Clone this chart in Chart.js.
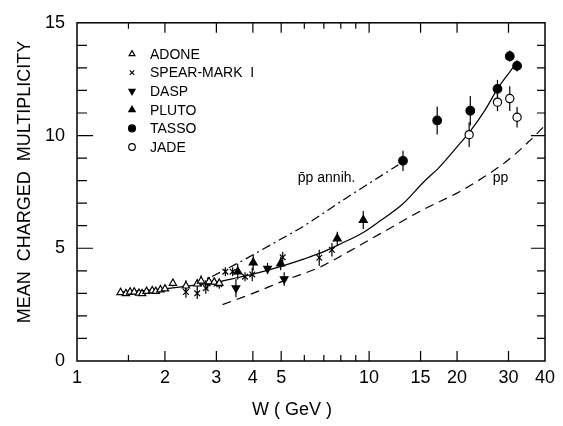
<!DOCTYPE html>
<html>
<head>
<meta charset="utf-8">
<script src="https://cdn.jsdelivr.net/npm/chart.js@4.4.0/dist/chart.umd.min.js"></script>
<style>
  html, body { margin: 0; padding: 0; background: #fff; }
  #wrap { width: 563px; height: 426px; }
</style>
</head>
<body>
<div id="wrap"><canvas id="myChart"></canvas></div>
<script>
// measured points, W in GeV, n = mean charged multiplicity, err = half error bar
const adoneW = [1.41, 1.47, 1.52, 1.57, 1.63, 1.67, 1.73, 1.81, 1.86, 1.93, 2.0, 2.13, 2.36, 2.58, 2.66, 2.83, 2.95, 3.07];
const adoneN = [3.04, 2.99, 3.06, 3.06, 3.01, 2.99, 3.09, 3.12, 3.09, 3.16, 3.2, 3.45, 3.33, 3.42, 3.55, 3.52, 3.5, 3.45];
const adoneErr = [0.1, 0.1, 0.1, 0.1, 0.1, 0.1, 0.1, 0.1, 0.1, 0.1, 0.1, 0.15, 0.25, 0.2, 0.25, 0.2, 0.2, 0.2];

const spearW = [2.36, 2.58, 2.76, 2.8, 3.07, 3.22, 3.41, 3.76, 3.98, 5.06, 6.75, 7.46];
const spearN = [3.06, 3.0, 3.23, 3.45, 3.4, 3.96, 3.96, 3.74, 3.84, 4.6, 4.58, 4.93];
const spearErr = [0.25, 0.25, 0.25, 0.25, 0.2, 0.2, 0.2, 0.2, 0.3, 0.25, 0.35, 0.3];

const daspW = [3.5, 4.49, 5.12];
const daspN = [3.23, 4.1, 3.64];
const daspErr = [0.4, 0.25, 0.3];

const plutoW = [3.55, 4.01, 4.98, 7.78, 9.55];
const plutoN = [3.96, 4.36, 4.32, 5.43, 6.25];
const plutoErr = [0.35, 0.35, 0.3, 0.3, 0.4];

const tassoW = [13.06, 17.1, 22.2, 27.5, 30.3, 32.1];
const tassoN = [8.88, 10.67, 11.1, 12.07, 13.52, 13.09];
const tassoErr = [0.45, 0.62, 0.65, 0.4, 0.25, 0.25];

const jadeW = [22.0, 27.5, 30.3, 32.1];
const jadeN = [10.04, 11.48, 11.64, 10.81];
const jadeErr = [0.55, 0.4, 0.55, 0.45];

// curves
const fitW = [1.4, 2, 2.5, 3, 3.5, 4, 5, 6, 7, 8, 9.55, 11, 13, 15.4, 17.4, 20, 22.2, 25, 27.5, 30, 32];
const fitN = [3.05, 3.2, 3.35, 3.5, 3.68, 3.85, 4.2, 4.53, 4.85, 5.2, 5.7, 6.25, 6.95, 7.95, 8.6, 9.5, 10.2, 11.15, 12.07, 12.75, 13.23];

const annihW = [2.9, 3.6, 4.7, 6.0, 7.8, 10.2, 12.6];
const annihN = [3.75, 4.38, 5.22, 6.0, 6.98, 7.95, 8.7];

const ppW = [3.15, 4, 5.2, 6.8, 8.24, 11.35, 15.3, 20.4, 25, 29.7, 35, 40];
const ppN = [2.5, 3.0, 3.6, 4.17, 4.75, 5.77, 6.71, 7.51, 8.2, 8.88, 9.7, 10.45];

// axes
const xTickVals = [1, 2, 3, 4, 5, 10, 15, 20, 30, 40];
const xMinorVals = [1.5, 6, 7, 8, 9];
const yTickVals = [0, 5, 10, 15];

const pts = (w, n) => w.map((v, i) => ({ x: v, y: n[i] }));

const numFont = "'Liberation Sans Narrow', 'Liberation Sans', sans-serif";
const txtFont = "'Liberation Sans', Arial, sans-serif";

function marker(label, w, n, err, style, fill, radius, rot) {
    return {
        label: label,
        data: pts(w, n),
        errors: err,
        pointStyle: style,
        pointRotation: rot || 0,
        pointRadius: radius,
        pointBackgroundColor: fill,
        pointBorderColor: '#000',
        pointBorderWidth: 1.2,
        showLine: false
    };
}

function curve(w, n, dash) {
    return {
        label: '',
        data: pts(w, n),
        showLine: true,
        borderColor: '#000',
        borderWidth: 1.2,
        borderDash: dash,
        pointRadius: 0,
        cubicInterpolationMode: 'monotone'
    };
}

const markers = [
    marker('ADONE', adoneW, adoneN, adoneErr, 'triangle', '#fff', 4.2),
    marker('SPEAR-MARK  I', spearW, spearN, spearErr, 'crossRot', '#000', 4),
    marker('DASP', daspW, daspN, daspErr, 'triangle', '#000', 4.4, 180),
    marker('PLUTO', plutoW, plutoN, plutoErr, 'triangle', '#000', 4.6),
    marker('TASSO', tassoW, tassoN, tassoErr, 'circle', '#000', 4.3),
    marker('JADE', jadeW, jadeN, jadeErr, 'circle', '#fff', 4.1)
];

// inward ticks, frame, error bars, legend and labels
const decor = {
    id: 'decor',
    beforeDatasetsDraw(chart) {
        const { ctx } = chart;
        const xs = chart.scales.x, ys = chart.scales.y;
        ctx.save();
        ctx.strokeStyle = '#000';
        ctx.lineWidth = 1.2;
        chart.data.datasets.forEach(ds => {
            if (!ds.errors) return;
            ds.data.forEach((p, i) => {
                const px = xs.getPixelForValue(p.x);
                ctx.beginPath();
                ctx.moveTo(px, ys.getPixelForValue(p.y - ds.errors[i]));
                ctx.lineTo(px, ys.getPixelForValue(p.y + ds.errors[i]));
                ctx.stroke();
            });
        });
        ctx.restore();
    },
    afterDraw(chart) {
        const { ctx, chartArea: a } = chart;
        const xs = chart.scales.x, ys = chart.scales.y;
        ctx.save();
        ctx.strokeStyle = '#000';
        ctx.lineWidth = 1.5;
        ctx.strokeRect(a.left, a.top, a.right - a.left, a.bottom - a.top);

        ctx.lineWidth = 1.2;
        ctx.beginPath();
        const xt = (v, len) => {
            const px = xs.getPixelForValue(v);
            ctx.moveTo(px, a.bottom); ctx.lineTo(px, a.bottom - len);
            ctx.moveTo(px, a.top); ctx.lineTo(px, a.top + len);
        };
        xTickVals.slice(1, -1).forEach(v => xt(v, 10));
        xMinorVals.forEach(v => xt(v, 6));
        for (let v = 1; v < 15; v++) {
            const py = ys.getPixelForValue(v);
            const len = yTickVals.includes(v) ? 16 : 10;
            ctx.moveTo(a.left, py); ctx.lineTo(a.left + len, py);
            ctx.moveTo(a.right, py); ctx.lineTo(a.right - (len - 2), py);
        }
        ctx.stroke();

        // legend
        ctx.font = '14px ' + txtFont;
        ctx.textBaseline = 'middle';
        markers.forEach((m, i) => {
            const y = 54 + i * 18.6;
            ctx.fillStyle = m.pointBackgroundColor;
            ctx.strokeStyle = '#000';
            ctx.lineWidth = 1.2;
            Chart.helpers.drawPoint(ctx, {
                pointStyle: m.pointStyle,
                rotation: m.pointRotation,
                radius: m.pointRadius * 0.8,
                borderWidth: 1.2
            }, 132, y);
            ctx.fillStyle = '#000';
            ctx.fillText(m.label, 150, y + 1);
        });

        // curve labels
        ctx.fillText('p\u0304p annih.', xs.getPixelForValue(5.7), ys.getPixelForValue(8.1));
        ctx.fillText('pp', xs.getPixelForValue(26.5), ys.getPixelForValue(8.1));

        // axis titles
        ctx.font = '18px ' + txtFont;
        ctx.textAlign = 'center';
        ctx.fillText('W ( GeV )', 292, 410);
        ctx.translate(25, 182);
        ctx.rotate(-Math.PI / 2);
        ctx.fillText('MEAN  CHARGED  MULTIPLICITY', 0, 0);
        ctx.restore();
    }
};

new Chart(document.getElementById('myChart'), {
    type: 'scatter',
    data: {
        datasets: [
            ...markers,
            curve(fitW, fitN, []),
            curve(annihW, annihN, [9, 4, 2, 4]),
            curve(ppW, ppN, [9, 6])
        ]
    },
    options: {
        responsive: true,
        maintainAspectRatio: false,
        animation: false,
        layout: { padding: { top: 16, right: 18, left: 0, bottom: 0 } },
        plugins: { legend: { display: false }, tooltip: { enabled: false } },
        scales: {
            x: {
                type: 'logarithmic',
                min: 1,
                max: 40,
                grid: { display: false, drawTicks: false },
                border: { display: false },
                afterBuildTicks: s => { s.ticks = xTickVals.map(v => ({ value: v })); },
                afterFit: s => { s.height = 65; },
                ticks: {
                    autoSkip: false,
                    maxRotation: 0,
                    padding: 6,
                    color: '#000',
                    font: { size: 18, family: numFont },
                    callback: v => String(v)
                }
            },
            y: {
                min: 0,
                max: 15,
                grid: { display: false, drawTicks: false },
                border: { display: false },
                afterBuildTicks: s => { s.ticks = yTickVals.map(v => ({ value: v })); },
                afterFit: s => { s.width = 77; },
                ticks: {
                    padding: 12,
                    color: '#000',
                    font: { size: 18, family: numFont }
                }
            }
        }
    },
    plugins: [decor]
});
</script>
</body>
</html>
